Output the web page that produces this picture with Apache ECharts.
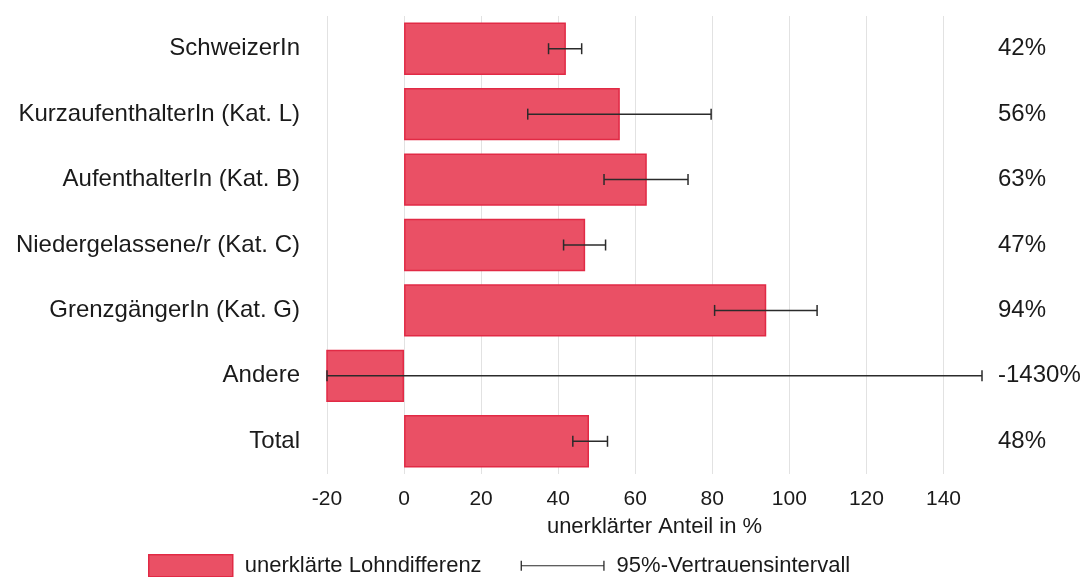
<!DOCTYPE html>
<html>
<head>
<meta charset="utf-8">
<script src="https://cdn.jsdelivr.net/npm/echarts@6/dist/echarts.min.js"></script>
<style>
  html, body { margin: 0; padding: 0; background: #fff; }
  #chart { width: 1088px; height: 577px; }
</style>
</head>
<body>
<div id="chart"></div>
<script>
// Categories, top to bottom
const categories = [
  'SchweizerIn',
  'KurzaufenthalterIn (Kat. L)',
  'AufenthalterIn (Kat. B)',
  'Niedergelassene/r (Kat. C)',
  'GrenzgängerIn (Kat. G)',
  'Andere',
  'Total'
];
// Unexplained share of the wage gap, in %
const unexplained = [42, 56, 63, 47, 94, -1430, 48];
// 95% confidence interval bounds (shown within the axis range)
const ciLow  = [37.5, 32.1, 51.9, 41.4, 80.6, -20, 43.8];
const ciHigh = [46.1, 79.7, 73.7, 52.3, 107.2, 150, 52.8];

const xTicksMin = -20, xTicksMax = 150, xStep = 20;

const font = '"Liberation Sans", Arial, sans-serif';
const textColor = '#1a1a1a';

const chart = echarts.init(document.getElementById('chart'), null, { renderer: 'canvas' });

// one colour per split line; the line at the axis maximum stays invisible
const gridColors = [];
for (let v = xTicksMin; v < xTicksMax; v += xStep) gridColors.push('#e2e2e2');
gridColors.push('rgba(0,0,0,0)');

chart.setOption({
  animation: false,
  backgroundColor: '#ffffff',
  textStyle: { fontFamily: font },
  grid: { left: 327, right: 106, top: 16, bottom: 103, containLabel: false },
  xAxis: {
    type: 'value',
    min: xTicksMin,
    max: xTicksMax,
    interval: xStep,
    name: 'unerklärter Anteil in %',
    nameLocation: 'middle',
    nameGap: 42,
    nameTextStyle: { fontSize: 22, color: textColor, fontFamily: font },
    axisLine: { show: false },
    axisTick: { show: false },
    axisLabel: {
      fontSize: 21, color: textColor, fontFamily: font, margin: 15,
      formatter: v => (v === xTicksMax ? '' : String(v))
    },
    splitLine: { show: true, lineStyle: { color: gridColors, width: 1 } }
  },
  yAxis: [
    {
      type: 'category',
      data: categories,
      inverse: true,
      axisLine: { show: false },
      axisTick: { show: false },
      axisLabel: { fontSize: 24, color: textColor, fontFamily: font, margin: 27 }
    },
    {
      type: 'category',
      data: categories,
      inverse: true,
      position: 'right',
      axisLine: { show: false },
      axisTick: { show: false },
      axisLabel: {
        fontSize: 24, color: textColor, fontFamily: font, margin: 16, align: 'left',
        formatter: (val, idx) => Math.round(unexplained[idx]) + '%'
      }
    }
  ],
  legend: {
    left: 143,
    top: 549,
    itemWidth: 84,
    itemHeight: 22,
    itemGap: 39,
    textStyle: { fontSize: 22, color: textColor, fontFamily: font, padding: [0, 0, 0, 7] },
    data: [
      { name: 'unerklärte Lohndifferenz', icon: 'rect',
        itemStyle: { color: '#ea5065', borderColor: '#e12a45', borderWidth: 1.5 } },
      { name: '95%-Vertrauensintervall',
        icon: 'path://M0,10.5h84v1.1H0z M0,6h1.3v10H0z M82.7,6h1.3v10h-1.3z M0,0h0.01v0.01H0z M0,22h0.01v0.01H0z',
        itemStyle: { color: '#2b2b2b', borderWidth: 0 } }
    ]
  },
  series: [
    {
      name: 'unerklärte Lohndifferenz',
      type: 'bar',
      data: unexplained,
      barCategoryGap: '20%',
      clip: true,
      itemStyle: { color: '#ea5065', borderColor: '#e12a45', borderWidth: 1.5 }
    },
    {
      name: '95%-Vertrauensintervall',
      type: 'custom',
      itemStyle: { color: '#2b2b2b' },
      data: categories.map((c, i) => [i, ciLow[i], ciHigh[i]]),
      encode: { x: [1, 2], y: 0 },
      renderItem: function (params, api) {
        const idx = api.value(0);
        const lo = api.coord([api.value(1), idx]);
        const hi = api.coord([api.value(2), idx]);
        const capH = 5.5;
        const style = { stroke: '#2b2b2b', lineWidth: 1.5, fill: null };
        return {
          type: 'group',
          children: [
            { type: 'line', shape: { x1: lo[0], y1: lo[1], x2: hi[0], y2: hi[1] }, style },
            { type: 'line', shape: { x1: lo[0], y1: lo[1] - capH, x2: lo[0], y2: lo[1] + capH }, style },
            { type: 'line', shape: { x1: hi[0], y1: hi[1] - capH, x2: hi[0], y2: hi[1] + capH }, style }
          ]
        };
      },
      z: 5
    }
  ]
});
</script>
</body>
</html>
